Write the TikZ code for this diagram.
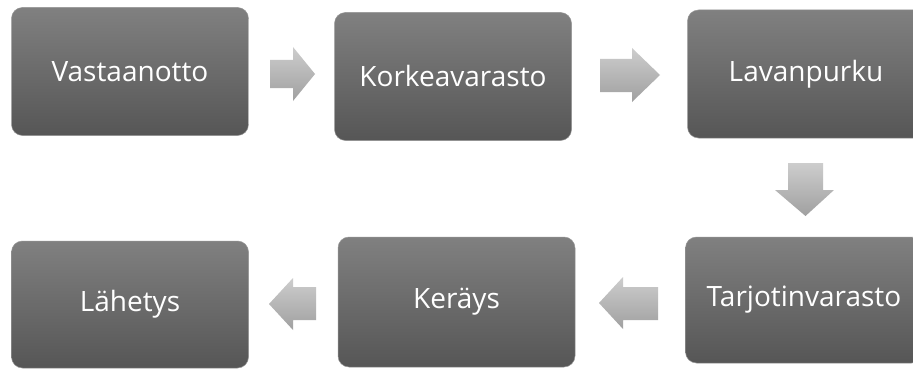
\documentclass[tikz,border=0pt]{standalone}
\usepackage{fontspec}
\setmainfont{Open Sans}
\definecolor{boxtop}{RGB}{128,128,128}
\definecolor{boxbot}{RGB}{86,86,86}
\definecolor{boxline}{RGB}{150,150,150}
\definecolor{arrtop}{RGB}{205,205,205}
\definecolor{arrbot}{RGB}{160,160,160}
\begin{document}
\begin{tikzpicture}[x=1pt,y=-1pt,
  box/.style={rectangle, rounded corners=11pt, top color=boxtop, bottom color=boxbot, draw=boxline, line width=0.5pt,
    text=white, font=\fontsize{28}{33}\selectfont, inner sep=0pt, minimum width=237pt, minimum height=128pt},
  blockarrow/.style={top color=arrtop, bottom color=arrbot, draw=none}]
\clip (0,0) rectangle (913,369);
\fill[white] (0,0) rectangle (913,369);
% boxes
\node[box] (vast) at (130,71.5) {Vastaanotto};
\node[box] (kork) at (453,76.5) {Korkeavarasto};
\node[box] (lava) at (806,74) {Lavanpurku};
\node[box, minimum height=126pt] (tarj) at (804,300) {Tarjotinvarasto};
\node[box, minimum height=130pt] (kera) at (456.5,302) {Keräys};
\node[box, minimum height=127pt] (lahe) at (130,304.5) {Lähetys};
% block arrows
\shade[blockarrow] (270,60) -- (293,60) -- (293,47) -- (315,74) -- (293,101) -- (293,88) -- (270,88) -- cycle;
\shade[blockarrow] (600,59) -- (632,59) -- (632,48) -- (660,75) -- (632,102) -- (632,92) -- (600,92) -- cycle;
\shade[blockarrow] (788,163) -- (823,163) -- (823,190) -- (834,190) -- (805.5,216) -- (775,190) -- (788,190) -- cycle;
\shade[blockarrow] (658,287) -- (623,287) -- (623,277) -- (599,303) -- (623,329) -- (623,320) -- (658,320) -- cycle;
\shade[blockarrow] (316,287) -- (293,287) -- (293,278) -- (269,304) -- (293,330) -- (293,320) -- (316,320) -- cycle;
\end{tikzpicture}
\end{document}
